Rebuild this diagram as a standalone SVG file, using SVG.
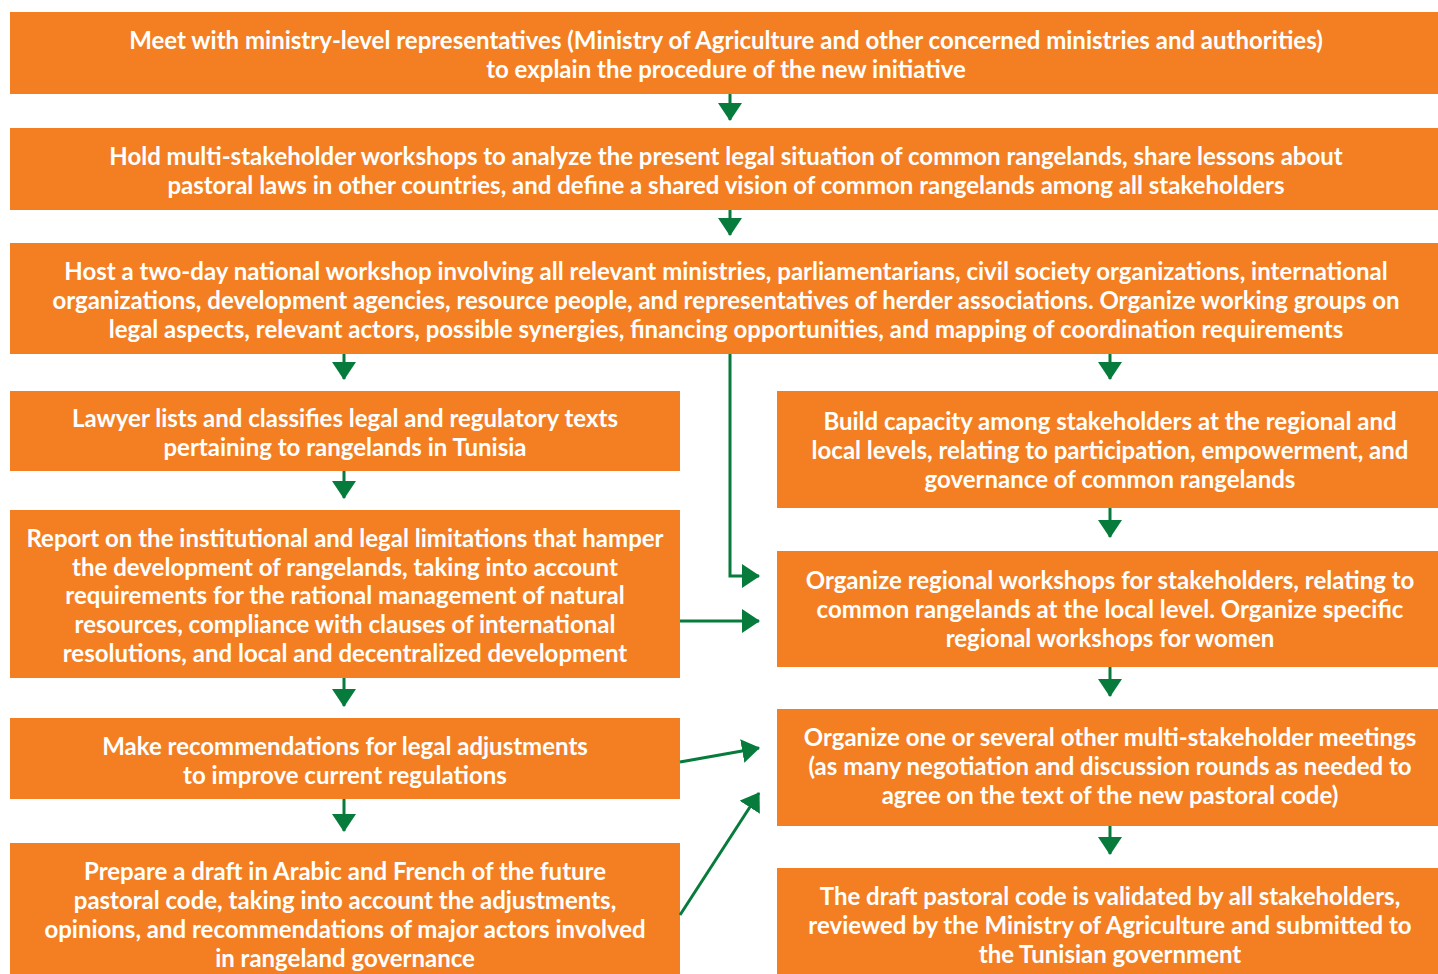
<svg xmlns="http://www.w3.org/2000/svg" width="1438" height="974" viewBox="0 0 1438 974">
  <defs>
    <style>
      .box { fill: #F47F22; }
      .lbl { font-family: Lato, "Open Sans", "Liberation Sans", sans-serif; font-size: 24px; font-weight: 700; fill: #FFFFFF; text-anchor: middle; }
      .conn { stroke: #067B3B; stroke-width: 3; fill: none; }
    </style>
    <marker id="arrow" markerUnits="userSpaceOnUse" markerWidth="18" markerHeight="24" refX="17" refY="12" orient="auto" viewBox="0 0 18 24">
      <path d="M0,0 L18,12 L0,24 Z" fill="#067B3B"/>
    </marker>
  </defs>

  <rect width="1438" height="974" fill="#FFFFFF"/>

  <!-- top row, full width -->
  <g id="meet-ministries">
    <rect class="box" x="10" y="12" width="1428" height="82"/>
    <text class="lbl" x="726" y="49">Meet with ministry-level representatives (Ministry of Agriculture and other concerned ministries and authorities)</text>
    <text class="lbl" x="726" y="78">to explain the procedure of the new initiative</text>
  </g>

  <g id="multi-stakeholder-workshops">
    <rect class="box" x="10" y="128" width="1428" height="82"/>
    <text class="lbl" x="726" y="165">Hold multi-stakeholder workshops to analyze the present legal situation of common rangelands, share lessons about</text>
    <text class="lbl" x="726" y="194">pastoral laws in other countries, and define a shared vision of common rangelands among all stakeholders</text>
  </g>

  <g id="national-workshop">
    <rect class="box" x="10" y="243" width="1428" height="111"/>
    <text class="lbl" x="726" y="280">Host a two-day national workshop involving all relevant ministries, parliamentarians, civil society organizations, international</text>
    <text class="lbl" x="726" y="309">organizations, development agencies, resource people, and representatives of herder associations. Organize working groups on</text>
    <text class="lbl" x="726" y="338">legal aspects, relevant actors, possible synergies, financing opportunities, and mapping of coordination requirements</text>
  </g>

  <!-- left column -->
  <g id="lawyer-lists">
    <rect class="box" x="10" y="391" width="670" height="80"/>
    <text class="lbl" x="345" y="427">Lawyer lists and classifies legal and regulatory texts</text>
    <text class="lbl" x="345" y="456">pertaining to rangelands in Tunisia</text>
  </g>

  <g id="report-limitations">
    <rect class="box" x="10" y="510" width="670" height="168"/>
    <text class="lbl" x="345" y="547">Report on the institutional and legal limitations that hamper</text>
    <text class="lbl" x="345" y="576">the development of rangelands, taking into account</text>
    <text class="lbl" x="345" y="604">requirements for the rational management of natural</text>
    <text class="lbl" x="345" y="633">resources, compliance with clauses of international</text>
    <text class="lbl" x="345" y="662">resolutions, and local and decentralized development</text>
  </g>

  <g id="recommendations">
    <rect class="box" x="10" y="718" width="670" height="81"/>
    <text class="lbl" x="345" y="755">Make recommendations for legal adjustments</text>
    <text class="lbl" x="345" y="784">to improve current regulations</text>
  </g>

  <g id="draft-code">
    <rect class="box" x="10" y="843" width="670" height="131"/>
    <text class="lbl" x="345" y="880">Prepare a draft in Arabic and French of the future</text>
    <text class="lbl" x="345" y="909">pastoral code, taking into account the adjustments,</text>
    <text class="lbl" x="345" y="938">opinions, and recommendations of major actors involved</text>
    <text class="lbl" x="345" y="967">in rangeland governance</text>
  </g>

  <!-- right column -->
  <g id="capacity-building">
    <rect class="box" x="777" y="391" width="661" height="117"/>
    <text class="lbl" x="1110" y="430">Build capacity among stakeholders at the regional and</text>
    <text class="lbl" x="1110" y="459">local levels, relating to participation, empowerment, and</text>
    <text class="lbl" x="1110" y="488">governance of common rangelands</text>
  </g>

  <g id="regional-workshops">
    <rect class="box" x="777" y="551" width="661" height="116"/>
    <text class="lbl" x="1110" y="589">Organize regional workshops for stakeholders, relating to</text>
    <text class="lbl" x="1110" y="618">common rangelands at the local level. Organize specific</text>
    <text class="lbl" x="1110" y="647">regional workshops for women</text>
  </g>

  <g id="negotiation-meetings">
    <rect class="box" x="777" y="709" width="661" height="117"/>
    <text class="lbl" x="1110" y="746">Organize one or several other multi-stakeholder meetings</text>
    <text class="lbl" x="1110" y="775">(as many negotiation and discussion rounds as needed to</text>
    <text class="lbl" x="1110" y="804">agree on the text of the new pastoral code)</text>
  </g>

  <g id="validation">
    <rect class="box" x="777" y="868" width="661" height="106"/>
    <text class="lbl" x="1110" y="905">The draft pastoral code is validated by all stakeholders,</text>
    <text class="lbl" x="1110" y="934">reviewed by the Ministry of Agriculture and submitted to</text>
    <text class="lbl" x="1110" y="963">the Tunisian government</text>
  </g>

  <!-- connectors -->
  <g id="connectors">
    <path class="conn" marker-end="url(#arrow)" d="M730,94 V120"/>
    <path class="conn" marker-end="url(#arrow)" d="M730,210 V235"/>
    <path class="conn" marker-end="url(#arrow)" d="M344,354 V379"/>
    <path class="conn" marker-end="url(#arrow)" d="M1110,354 V379"/>
    <path class="conn" marker-end="url(#arrow)" d="M730,354 V576 H759"/>
    <path class="conn" marker-end="url(#arrow)" d="M344,471 V498"/>
    <path class="conn" marker-end="url(#arrow)" d="M344,678 V706"/>
    <path class="conn" marker-end="url(#arrow)" d="M344,799 V831"/>
    <path class="conn" marker-end="url(#arrow)" d="M680,621 H759"/>
    <path class="conn" marker-end="url(#arrow)" d="M680,762 L759,748"/>
    <path class="conn" marker-end="url(#arrow)" d="M680,915 L759,793"/>
    <path class="conn" marker-end="url(#arrow)" d="M1110,508 V537"/>
    <path class="conn" marker-end="url(#arrow)" d="M1110,667 V696"/>
    <path class="conn" marker-end="url(#arrow)" d="M1110,826 V854"/>
  </g>
</svg>
